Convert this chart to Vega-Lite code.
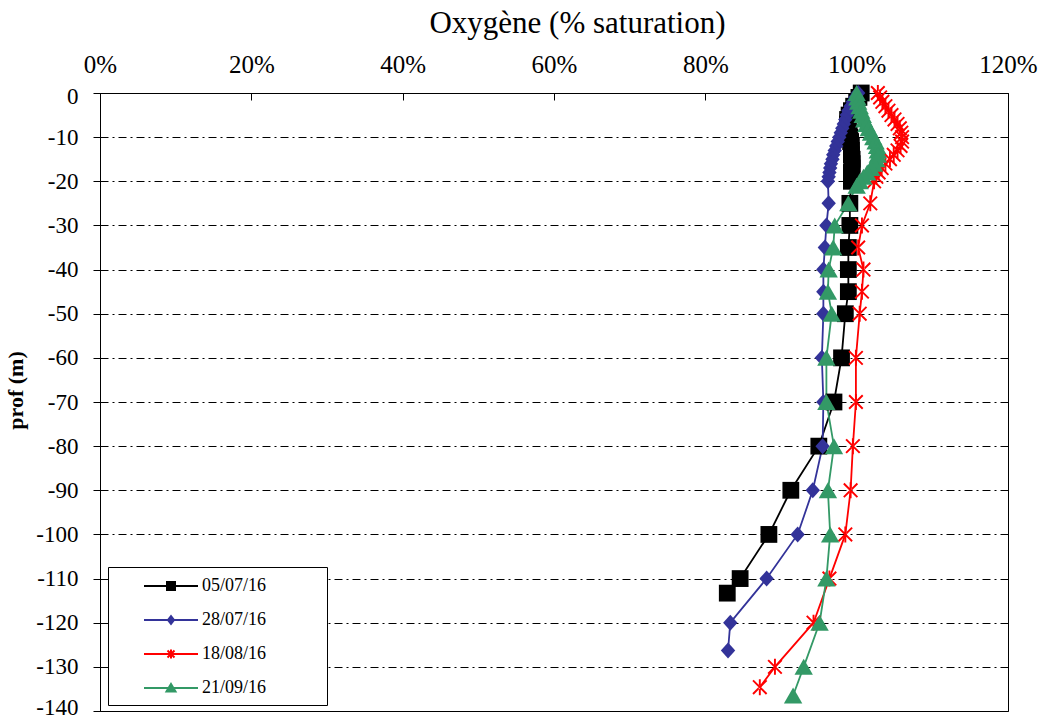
{
  "$schema": "https://vega.github.io/schema/vega-lite/v6.json",
  "autosize": {"type": "none"},
  "padding": {"left": 100, "top": 93, "right": 35, "bottom": 9},
  "width": 908,
  "height": 618,
  "background": "white",
  "config": {
    "font": "Liberation Serif, Times New Roman, serif",
    "view": {"stroke": "black", "strokeWidth": 1},
    "axis": {"labelColor": "black", "titleColor": "black", "domainColor": "black", "tickColor": "black"}
  },
  "datasets": {
    "d": [
      {"date": "05/07/16", "prof": 0, "oxy": 100.6},
      {"date": "05/07/16", "prof": -1, "oxy": 100.3},
      {"date": "05/07/16", "prof": -2, "oxy": 100.0},
      {"date": "05/07/16", "prof": -3, "oxy": 99.6},
      {"date": "05/07/16", "prof": -4, "oxy": 99.3},
      {"date": "05/07/16", "prof": -5, "oxy": 99.0},
      {"date": "05/07/16", "prof": -6, "oxy": 98.8},
      {"date": "05/07/16", "prof": -7, "oxy": 98.8},
      {"date": "05/07/16", "prof": -8, "oxy": 98.9},
      {"date": "05/07/16", "prof": -9, "oxy": 99.0},
      {"date": "05/07/16", "prof": -10, "oxy": 99.1},
      {"date": "05/07/16", "prof": -11, "oxy": 99.2},
      {"date": "05/07/16", "prof": -12, "oxy": 99.3},
      {"date": "05/07/16", "prof": -13, "oxy": 99.3},
      {"date": "05/07/16", "prof": -14, "oxy": 99.3},
      {"date": "05/07/16", "prof": -15, "oxy": 99.4},
      {"date": "05/07/16", "prof": -16, "oxy": 99.4},
      {"date": "05/07/16", "prof": -17, "oxy": 99.4},
      {"date": "05/07/16", "prof": -18, "oxy": 99.3},
      {"date": "05/07/16", "prof": -19, "oxy": 99.3},
      {"date": "05/07/16", "prof": -20, "oxy": 99.3},
      {"date": "05/07/16", "prof": -25, "oxy": 99.1},
      {"date": "05/07/16", "prof": -30, "oxy": 99.1},
      {"date": "05/07/16", "prof": -35, "oxy": 98.9},
      {"date": "05/07/16", "prof": -40, "oxy": 98.9},
      {"date": "05/07/16", "prof": -45, "oxy": 98.9},
      {"date": "05/07/16", "prof": -50, "oxy": 98.5},
      {"date": "05/07/16", "prof": -60, "oxy": 98.0},
      {"date": "05/07/16", "prof": -70, "oxy": 97.0},
      {"date": "05/07/16", "prof": -80, "oxy": 95.0},
      {"date": "05/07/16", "prof": -90, "oxy": 91.3},
      {"date": "05/07/16", "prof": -100, "oxy": 88.4},
      {"date": "05/07/16", "prof": -110, "oxy": 84.6},
      {"date": "05/07/16", "prof": -113.3, "oxy": 82.9},

      {"date": "28/07/16", "prof": 0, "oxy": 100.2},
      {"date": "28/07/16", "prof": -1, "oxy": 99.8},
      {"date": "28/07/16", "prof": -2, "oxy": 99.5},
      {"date": "28/07/16", "prof": -3, "oxy": 99.2},
      {"date": "28/07/16", "prof": -4, "oxy": 98.9},
      {"date": "28/07/16", "prof": -5, "oxy": 98.7},
      {"date": "28/07/16", "prof": -6, "oxy": 98.5},
      {"date": "28/07/16", "prof": -7, "oxy": 98.3},
      {"date": "28/07/16", "prof": -8, "oxy": 98.1},
      {"date": "28/07/16", "prof": -9, "oxy": 97.9},
      {"date": "28/07/16", "prof": -10, "oxy": 97.7},
      {"date": "28/07/16", "prof": -11, "oxy": 97.5},
      {"date": "28/07/16", "prof": -12, "oxy": 97.3},
      {"date": "28/07/16", "prof": -13, "oxy": 97.1},
      {"date": "28/07/16", "prof": -14, "oxy": 96.9},
      {"date": "28/07/16", "prof": -15, "oxy": 96.8},
      {"date": "28/07/16", "prof": -16, "oxy": 96.6},
      {"date": "28/07/16", "prof": -17, "oxy": 96.5},
      {"date": "28/07/16", "prof": -18, "oxy": 96.4},
      {"date": "28/07/16", "prof": -19, "oxy": 96.3},
      {"date": "28/07/16", "prof": -20, "oxy": 96.2},
      {"date": "28/07/16", "prof": -25, "oxy": 96.3},
      {"date": "28/07/16", "prof": -30, "oxy": 96.0},
      {"date": "28/07/16", "prof": -35, "oxy": 95.8},
      {"date": "28/07/16", "prof": -40, "oxy": 95.6},
      {"date": "28/07/16", "prof": -45, "oxy": 95.6},
      {"date": "28/07/16", "prof": -50, "oxy": 95.6},
      {"date": "28/07/16", "prof": -60, "oxy": 95.4},
      {"date": "28/07/16", "prof": -70, "oxy": 95.6},
      {"date": "28/07/16", "prof": -80, "oxy": 95.5},
      {"date": "28/07/16", "prof": -90, "oxy": 94.2},
      {"date": "28/07/16", "prof": -100, "oxy": 92.2},
      {"date": "28/07/16", "prof": -110, "oxy": 88.1},
      {"date": "28/07/16", "prof": -120, "oxy": 83.3},
      {"date": "28/07/16", "prof": -126.3, "oxy": 83.0},

      {"date": "18/08/16", "prof": 0, "oxy": 102.8},
      {"date": "18/08/16", "prof": -1, "oxy": 103.1},
      {"date": "18/08/16", "prof": -2, "oxy": 103.4},
      {"date": "18/08/16", "prof": -3, "oxy": 103.8},
      {"date": "18/08/16", "prof": -4, "oxy": 104.2},
      {"date": "18/08/16", "prof": -5, "oxy": 104.6},
      {"date": "18/08/16", "prof": -6, "oxy": 105.0},
      {"date": "18/08/16", "prof": -7, "oxy": 105.4},
      {"date": "18/08/16", "prof": -8, "oxy": 105.7},
      {"date": "18/08/16", "prof": -9, "oxy": 105.9},
      {"date": "18/08/16", "prof": -10, "oxy": 106.0},
      {"date": "18/08/16", "prof": -11, "oxy": 106.0},
      {"date": "18/08/16", "prof": -12, "oxy": 105.8},
      {"date": "18/08/16", "prof": -13, "oxy": 105.4},
      {"date": "18/08/16", "prof": -14, "oxy": 104.9},
      {"date": "18/08/16", "prof": -15, "oxy": 104.4},
      {"date": "18/08/16", "prof": -16, "oxy": 103.8},
      {"date": "18/08/16", "prof": -17, "oxy": 103.3},
      {"date": "18/08/16", "prof": -18, "oxy": 102.9},
      {"date": "18/08/16", "prof": -19, "oxy": 102.6},
      {"date": "18/08/16", "prof": -20, "oxy": 102.3},
      {"date": "18/08/16", "prof": -25, "oxy": 101.8},
      {"date": "18/08/16", "prof": -30, "oxy": 100.7},
      {"date": "18/08/16", "prof": -35, "oxy": 100.2},
      {"date": "18/08/16", "prof": -40, "oxy": 100.9},
      {"date": "18/08/16", "prof": -45, "oxy": 100.7},
      {"date": "18/08/16", "prof": -50, "oxy": 100.4},
      {"date": "18/08/16", "prof": -60, "oxy": 99.9},
      {"date": "18/08/16", "prof": -70, "oxy": 99.9},
      {"date": "18/08/16", "prof": -80, "oxy": 99.5},
      {"date": "18/08/16", "prof": -90, "oxy": 99.2},
      {"date": "18/08/16", "prof": -100, "oxy": 98.5},
      {"date": "18/08/16", "prof": -110, "oxy": 96.4},
      {"date": "18/08/16", "prof": -120, "oxy": 94.3},
      {"date": "18/08/16", "prof": -130, "oxy": 89.2},
      {"date": "18/08/16", "prof": -134.6, "oxy": 87.2},

      {"date": "21/09/16", "prof": 0, "oxy": 100.0},
      {"date": "21/09/16", "prof": -1, "oxy": 100.1},
      {"date": "21/09/16", "prof": -2, "oxy": 100.2},
      {"date": "21/09/16", "prof": -3, "oxy": 100.4},
      {"date": "21/09/16", "prof": -4, "oxy": 100.6},
      {"date": "21/09/16", "prof": -5, "oxy": 100.8},
      {"date": "21/09/16", "prof": -6, "oxy": 101.0},
      {"date": "21/09/16", "prof": -7, "oxy": 101.3},
      {"date": "21/09/16", "prof": -8, "oxy": 101.6},
      {"date": "21/09/16", "prof": -9, "oxy": 101.9},
      {"date": "21/09/16", "prof": -10, "oxy": 102.2},
      {"date": "21/09/16", "prof": -11, "oxy": 102.5},
      {"date": "21/09/16", "prof": -12, "oxy": 102.7},
      {"date": "21/09/16", "prof": -13, "oxy": 102.8},
      {"date": "21/09/16", "prof": -14, "oxy": 102.8},
      {"date": "21/09/16", "prof": -15, "oxy": 102.6},
      {"date": "21/09/16", "prof": -16, "oxy": 102.3},
      {"date": "21/09/16", "prof": -17, "oxy": 101.9},
      {"date": "21/09/16", "prof": -18, "oxy": 101.4},
      {"date": "21/09/16", "prof": -19, "oxy": 100.9},
      {"date": "21/09/16", "prof": -20, "oxy": 100.4},
      {"date": "21/09/16", "prof": -21, "oxy": 100.0},
      {"date": "21/09/16", "prof": -25, "oxy": 98.9},
      {"date": "21/09/16", "prof": -30, "oxy": 97.1},
      {"date": "21/09/16", "prof": -35, "oxy": 96.9},
      {"date": "21/09/16", "prof": -40, "oxy": 96.3},
      {"date": "21/09/16", "prof": -45, "oxy": 96.2},
      {"date": "21/09/16", "prof": -50, "oxy": 96.7},
      {"date": "21/09/16", "prof": -60, "oxy": 96.0},
      {"date": "21/09/16", "prof": -70, "oxy": 96.0},
      {"date": "21/09/16", "prof": -80, "oxy": 97.0},
      {"date": "21/09/16", "prof": -90, "oxy": 96.2},
      {"date": "21/09/16", "prof": -100, "oxy": 96.5},
      {"date": "21/09/16", "prof": -110, "oxy": 96.0},
      {"date": "21/09/16", "prof": -120, "oxy": 95.1},
      {"date": "21/09/16", "prof": -130, "oxy": 93.0},
      {"date": "21/09/16", "prof": -136.5, "oxy": 91.6}
    ]
  },
  "data": {"name": "d"},
  "encoding": {
    "x": {
      "field": "oxy", "type": "quantitative",
      "scale": {"domain": [0, 120], "nice": false, "zero": false},
      "axis": {
        "orient": "top", "values": [0, 20, 40, 60, 80, 100, 120],
        "labelExpr": "datum.value + '%'",
        "title": "Oxygène (% saturation)",
        "labelFont": "Liberation Serif, Times New Roman, serif", "titleFont": "Liberation Serif, Times New Roman, serif",
        "grid": false, "tickSize": -7, "labelPadding": 23,
        "labelFontSize": 25, "titleFontSize": 31, "titleFontWeight": "normal",
        "titlePadding": 13, "titleX": 477, "labelFlush": false
      }
    },
    "y": {
      "field": "prof", "type": "quantitative",
      "scale": {"domain": [-140, 0], "nice": false, "zero": false},
      "axis": {
        "values": [0, -10, -20, -30, -40, -50, -60, -70, -80, -90, -100, -110, -120, -130, -140],
        "labelExpr": "'' + datum.value",
        "labelFont": "Liberation Serif, Times New Roman, serif", "titleFont": "Liberation Serif, Times New Roman, serif",
        "grid": true, "gridColor": "black", "gridDash": [8, 4, 2, 4], "gridWidth": 1, "gridOpacity": 1,
        "tickSize": 7, "labelPadding": 15, "labelFontSize": 23,
        "labelFlush": true, "labelFlushOffset": 8,
        "title": "prof (m)", "titleFontSize": 22, "titleFontWeight": "bold", "titlePadding": 8, "titleY": 297
      }
    },
    "color": {
      "field": "date", "type": "nominal",
      "scale": {"domain": ["05/07/16", "28/07/16", "18/08/16", "21/09/16"], "range": ["#000000", "#333399", "#FF0000", "#339966"]},
      "legend": {
        "title": null, "orient": "none", "legendX": 8, "legendY": 474,
        "padding": 8, "strokeColor": "black", "fillColor": "white", "cornerRadius": 0,
        "labelFontSize": 18, "labelFont": "Liberation Serif, Times New Roman, serif", "labelColor": "black",
        "symbolSize": 400, "symbolOffset": 44, "labelOffset": 20, "rowPadding": 14,
        "labelExpr": "datum.label + '\u2800\u2800\u2800\u2800'",
        "encode": {
          "symbols": {
            "update": {
              "shape": {"signal": "datum.value === '05/07/16' ? 'M-2.7,0H2.7M-0.4,-0.4H0.4V0.4H-0.4Z' : datum.value === '28/07/16' ? 'M-2.7,0H2.7M0,-0.38L0.3,0L0,0.38L-0.3,0Z' : datum.value === '18/08/16' ? 'M-2.7,0H2.7M-0.35,-0.35L0.35,0.35M-0.35,0.35L0.35,-0.35M0,-0.45V0.45' : 'M-2.7,0H2.7M0,-0.4L0.45,0.35H-0.45Z'"},
              "stroke": {"scale": "color", "field": "value"},
              "fill": {"scale": "color", "field": "value"},
              "strokeWidth": {"value": 2},
              "opacity": {"value": 1}
            }
          }
        }
      }
    }
  },
  "layer": [
    {
      "mark": {"type": "line", "strokeWidth": 1.8},
      "encoding": {"order": {"field": "prof", "type": "quantitative"}}
    },
    {
      "mark": {"type": "point", "filled": true, "opacity": 1, "size": 256, "strokeWidth": 0},
      "encoding": {
        "shape": {
          "field": "date", "type": "nominal",
          "scale": {
            "domain": ["21/09/16", "18/08/16", "28/07/16", "05/07/16"],
            "range": [
              "M0,-1L1.15,1H-1.15Z",
              "M-0.12,-1H0.12V1H-0.12ZM-0.765,-0.935L0.935,0.765L0.765,0.935L-0.935,-0.765ZM-0.765,0.935L0.935,-0.765L0.765,-0.935L-0.935,0.765Z",
              "M0,-1L0.9,0L0,1L-0.9,0Z",
              "M-1.05,-1.05H1.05V1.05H-1.05Z"
            ]
          },
          "legend": null
        }
      }
    }
  ]
}
